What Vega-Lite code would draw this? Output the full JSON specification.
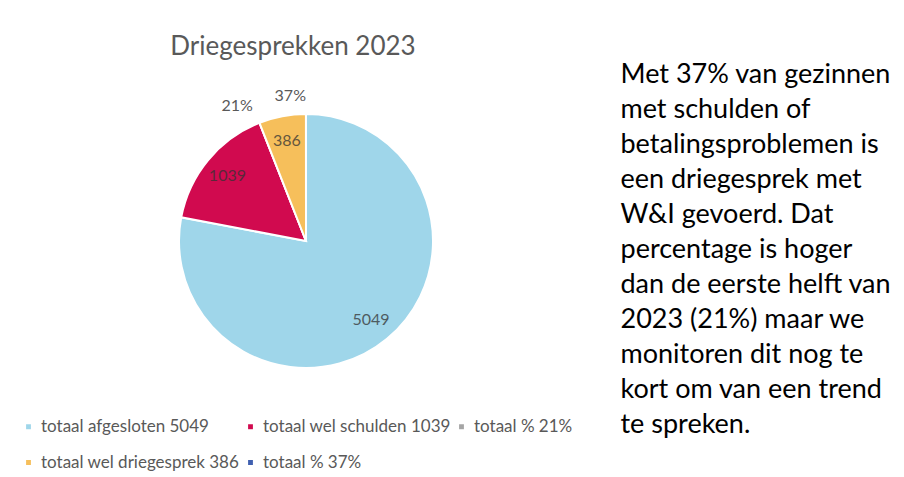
{
  "$schema": "https://vega.github.io/schema/vega-lite/v6.json",
  "background": "white",
  "padding": {"left": 20, "top": 34, "right": 0, "bottom": 0},
  "config": {"view": {"stroke": null}, "font": "Lato"},
  "spacing": 28,
  "bounds": "flush",
  "hconcat": [
    {
      "title": {"text": "Driegesprekken 2023", "fontSize": 26, "font": "Lato", "fontWeight": "normal", "color": "#595959", "offset": 4, "dx": -13},
      "width": 572,
      "height": 354,
      "data": {
        "values": [
          {"idx": 1, "category": "totaal afgesloten 5049", "value": 5049, "label": "5049"},
          {"idx": 2, "category": "totaal wel schulden 1039", "value": 1039, "label": "1039"},
          {"idx": 3, "category": "totaal % 21%", "value": 0.21, "label": "21%"},
          {"idx": 4, "category": "totaal wel driegesprek 386", "value": 386, "label": "386"},
          {"idx": 5, "category": "totaal % 37%", "value": 0.37, "label": "37%"}
        ]
      },
      "layer": [
        {
          "mark": {"type": "arc", "outerRadius": 127, "stroke": "white", "strokeWidth": 2},
          "encoding": {
            "theta": {"field": "value", "type": "quantitative", "stack": true},
            "order": {"field": "idx", "type": "quantitative"},
            "color": {
              "field": "category",
              "type": "nominal",
              "scale": {
                "domain": ["totaal afgesloten 5049", "totaal wel schulden 1039", "totaal % 21%", "totaal wel driegesprek 386", "totaal % 37%"],
                "range": ["#9fd6ea", "#d10a4f", "#a5a5a5", "#f6bf5b", "#4060b0"]
              },
              "legend": {
                "title": null,
                "orient": "bottom",
                "direction": "horizontal",
                "columns": 3,
                "symbolType": "square",
                "symbolSize": 40,
                "labelFontSize": 17,
                "labelColor": "#595959",
                "labelFont": "Lato",
                "columnPadding": 2,
                "rowPadding": 18,
                "offset": -20,
                "labelLimit": 400
              }
            }
          }
        },
        {
          "mark": {"type": "text", "radius": 102, "fontSize": 16, "fill": "#333333", "opacity": 0.75, "font": "Lato"},
          "encoding": {
            "theta": {"field": "value", "type": "quantitative", "stack": true},
            "order": {"field": "idx", "type": "quantitative"},
            "text": {"condition": {"test": "datum.value > 1", "field": "label"}, "value": ""}
          }
        },
        {
          "mark": {"type": "text", "radius": 145, "align": "right", "fontSize": 16, "fill": "#595959", "font": "Lato"},
          "encoding": {
            "theta": {"field": "value", "type": "quantitative", "stack": true},
            "order": {"field": "idx", "type": "quantitative"},
            "text": {"condition": {"test": "datum.value < 1", "field": "label"}, "value": ""}
          }
        }
      ]
    },
    {
      "width": 1,
      "height": 371,
      "data": {
        "values": [
          {"line": 1, "text": "Met 37% van gezinnen"},
          {"line": 2, "text": "met schulden of"},
          {"line": 3, "text": "betalingsproblemen is"},
          {"line": 4, "text": "een driegesprek met"},
          {"line": 5, "text": "W&I gevoerd. Dat"},
          {"line": 6, "text": "percentage is hoger"},
          {"line": 7, "text": "dan de eerste helft van"},
          {"line": 8, "text": "2023 (21%) maar we"},
          {"line": 9, "text": "monitoren dit nog te"},
          {"line": 10, "text": "kort om van een trend"},
          {"line": 11, "text": "te spreken."}
        ]
      },
      "mark": {"type": "text", "align": "left", "fontSize": 27, "font": "Lato", "fill": "black"},
      "encoding": {
        "y": {"field": "line", "type": "ordinal", "axis": null, "scale": {"type": "point", "padding": 0.3}},
        "text": {"field": "text"}
      }
    }
  ]
}
